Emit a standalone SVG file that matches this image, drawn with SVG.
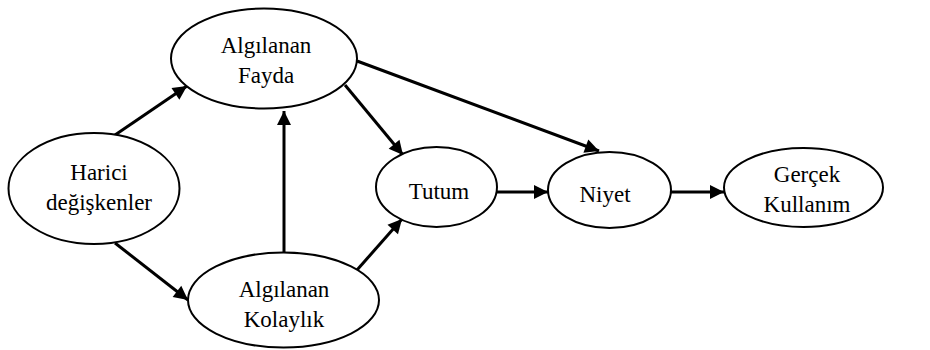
<svg xmlns="http://www.w3.org/2000/svg" width="930" height="350" viewBox="0 0 930 350">
<defs>
<style>
.n{fill:#fff;stroke:#000;stroke-width:2}
.t{font-family:"Liberation Serif","Times New Roman",serif;font-size:23px;fill:#000;text-anchor:middle}
.c{stroke:#000;stroke-width:3;fill:none;marker-end:url(#ah)}
</style>
<marker id="ah" markerUnits="userSpaceOnUse" markerWidth="16" markerHeight="16" viewBox="0 0 16 16" refX="15" refY="8" orient="auto">
<path d="M1,1 L15,8 L1,15 Z" fill="#000"/>
</marker>
</defs>
<rect width="930" height="350" fill="#fff"/>
<g id="connectors">
<line class="c" x1="115" y1="135" x2="187" y2="86"/>
<line class="c" x1="115" y1="243" x2="188" y2="300"/>
<line class="c" x1="284" y1="253" x2="284" y2="111"/>
<line class="c" x1="345" y1="85" x2="403" y2="155"/>
<line class="c" x1="357" y1="61" x2="599" y2="151"/>
<line class="c" x1="357" y1="270" x2="402" y2="219"/>
<line class="c" x1="497" y1="192" x2="548" y2="192"/>
<line class="c" x1="671" y1="192" x2="724" y2="192"/>
</g>
<g id="fayda">
<ellipse class="n" cx="264" cy="58.5" rx="93" ry="50"/>
<text class="t" x="266" y="53">Algılanan</text>
<text class="t" x="266" y="83">Fayda</text>
</g>
<g id="harici">
<ellipse class="n" cx="94" cy="188.5" rx="85.5" ry="55.5"/>
<text class="t" x="99" y="180">Harici</text>
<text class="t" x="99" y="210">değişkenler</text>
</g>
<g id="kolaylik">
<ellipse class="n" cx="283.5" cy="300" rx="95.5" ry="47.5"/>
<text class="t" x="284" y="297">Algılanan</text>
<text class="t" x="284" y="327">Kolaylık</text>
</g>
<g id="tutum">
<ellipse class="n" cx="436.5" cy="187" rx="60.5" ry="40"/>
<text class="t" x="439" y="199">Tutum</text>
</g>
<g id="niyet">
<ellipse class="n" cx="609.5" cy="190" rx="61.5" ry="38"/>
<text class="t" x="605" y="202">Niyet</text>
</g>
<g id="gercek">
<ellipse class="n" cx="803.5" cy="187.5" rx="79.5" ry="39.5"/>
<text class="t" x="807" y="182">Gerçek</text>
<text class="t" x="807" y="212">Kullanım</text>
</g>
</svg>
